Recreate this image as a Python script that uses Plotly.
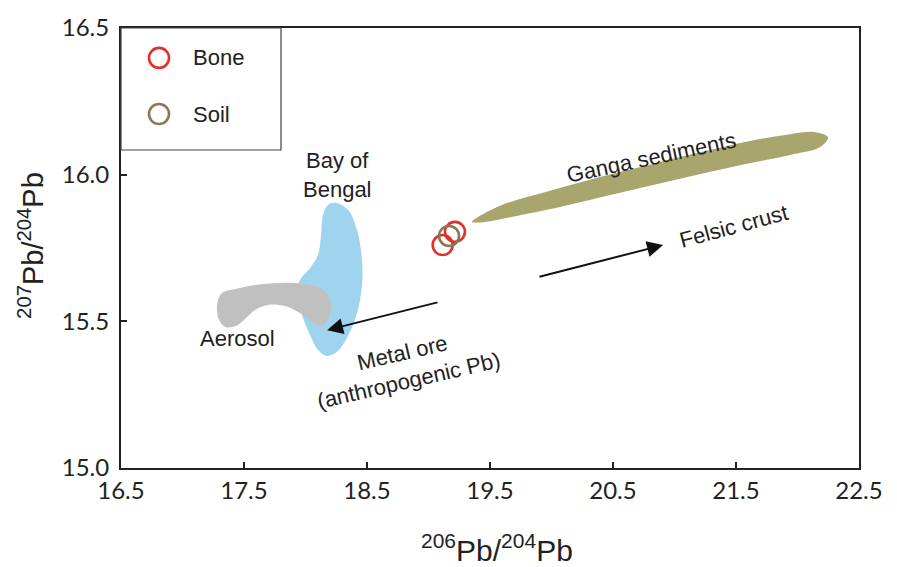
import plotly.graph_objects as go

# ---- data ----
bone_x = [19.115, 19.215]
bone_y = [15.760, 15.805]
soil_x = [19.167]
soil_y = [15.791]

ganga_x = [19.354, 19.581, 19.988, 20.394, 20.801, 21.207, 21.614, 21.939, 22.142, 22.248,
           22.183, 21.939, 21.533, 21.045, 20.557, 20.069, 19.663, 19.459, 19.354]
ganga_y = [15.839, 15.894, 15.945, 15.992, 16.034, 16.076, 16.115, 16.138, 16.145, 16.128,
           16.094, 16.067, 16.032, 15.986, 15.938, 15.890, 15.855, 15.839, 15.839]

bengal_x = [18.240, 18.346, 18.419, 18.459, 18.459, 18.419, 18.337, 18.256, 18.175, 18.102,
            18.037, 17.972, 17.931, 17.955, 18.037, 18.102, 18.126, 18.142, 18.183, 18.240]
bengal_y = [15.904, 15.880, 15.811, 15.709, 15.624, 15.528, 15.443, 15.396, 15.382, 15.402,
            15.453, 15.522, 15.590, 15.641, 15.682, 15.726, 15.794, 15.863, 15.897, 15.904]

aerosol_x = [17.289, 17.321, 17.427, 17.589, 17.793, 17.996, 18.118, 18.183, 18.207, 18.191,
             18.134, 18.053, 17.955, 17.833, 17.695, 17.589, 17.516, 17.435, 17.346, 17.297,
             17.280, 17.289]
aerosol_y = [15.573, 15.597, 15.610, 15.624, 15.631, 15.627, 15.614, 15.590, 15.556, 15.511,
             15.484, 15.498, 15.528, 15.552, 15.556, 15.539, 15.511, 15.484, 15.481, 15.505,
             15.539, 15.573]

metal_arrow = dict(x_tail=19.085, y_tail=15.566, x_head=18.175, y_head=15.470)
felsic_arrow = dict(x_tail=19.890, y_tail=15.651, x_head=20.907, y_head=15.760)

x_ticks = [16.5, 17.5, 18.5, 19.5, 20.5, 21.5, 22.5]
y_ticks = [15.0, 15.5, 16.0, 16.5]
x_tick_text = ["16.5", "17.5", "18.5", "19.5", "20.5", "21.5", "22.5"]
y_tick_text = ["15.0", "15.5", "16.0", "16.5"]

labels = [
    # text, x, y, angle
    ("Bay of<br>Bengal", 18.264, 16.000, 0),
    ("Aerosol", 17.451, 15.443, 0),
    ("Metal ore<br>(anthropogenic Pb)", 18.81, 15.345, -13),
    ("Ganga sediments", 20.81, 16.060, -12),
    ("Felsic crust", 21.476, 15.825, -15),
]

x_title = "<sup>206</sup>Pb/<sup>204</sup>Pb"
y_title = "<sup>207</sup>Pb/<sup>204</sup>Pb"

RED = "#e0322b"
BROWN = "#8c7658"
TEXT_FONT = "Liberation Sans, Arial, sans-serif"
TICK_FONT = "Lato, Open Sans, sans-serif"
TITLE_FONT = "Liberation Sans Narrow, Arial Narrow, Liberation Sans, sans-serif"

fig = go.Figure()

fig.add_trace(go.Scatter(x=bengal_x, y=bengal_y, mode="lines", fill="toself",
                         fillcolor="#9fd4ef", line=dict(width=0, color="#9fd4ef"),
                         line_shape="spline", showlegend=False, hoverinfo="skip"))
fig.add_trace(go.Scatter(x=aerosol_x, y=aerosol_y, mode="lines", fill="toself",
                         fillcolor="#c0c0c0", line=dict(width=0, color="#c0c0c0"),
                         line_shape="spline", showlegend=False, hoverinfo="skip"))
fig.add_trace(go.Scatter(x=ganga_x, y=ganga_y, mode="lines", fill="toself",
                         fillcolor="#a9a66d", line=dict(width=0, color="#a9a66d"),
                         line_shape="spline", showlegend=False, hoverinfo="skip"))

fig.add_trace(go.Scatter(x=bone_x, y=bone_y, mode="markers", name="Bone", showlegend=False,
                         marker=dict(symbol="circle-open", size=20, line=dict(width=2.6, color=RED),
                                     color=RED)))
fig.add_trace(go.Scatter(x=soil_x, y=soil_y, mode="markers", name="Soil", showlegend=False,
                         marker=dict(symbol="circle-open", size=20, line=dict(width=2.6, color=BROWN),
                                     color=BROWN)))

annotations = []
for txt, x, y, ang in labels:
    annotations.append(dict(x=x, y=y, text=txt, showarrow=False, textangle=ang,
                            font=dict(family=TEXT_FONT, size=22, color="#222222"),
                            xref="x", yref="y", align="center"))

for arr in (metal_arrow, felsic_arrow):
    annotations.append(dict(x=arr["x_head"], y=arr["y_head"], ax=arr["x_tail"], ay=arr["y_tail"],
                            xref="x", yref="y", axref="x", ayref="y", text="",
                            showarrow=True, arrowhead=2, arrowsize=1.6, arrowwidth=2,
                            arrowcolor="#111111", standoff=0, startstandoff=0))

# axis titles
annotations.append(dict(x=0.5095, y=-0.182, xref="paper", yref="paper", text=x_title,
                        showarrow=False, xanchor="center", yanchor="middle",
                        font=dict(family=TITLE_FONT, size=30, color="#222")))
annotations.append(dict(x=-0.122, y=0.507, xref="paper", yref="paper", text=y_title,
                        showarrow=False, xanchor="center", yanchor="middle", textangle=-90,
                        font=dict(family=TITLE_FONT, size=29, color="#222")))

# manual legend
legend_items = [("Bone", RED, 0.932), ("Soil", BROWN, 0.8045)]
shapes = [dict(type="rect", xref="x domain", yref="y domain", x0=0, x1=0.2168, y0=0.7227, y1=1,
               line=dict(color="#444444", width=1.2), fillcolor="rgba(0,0,0,0)")]
for name, col, yy in legend_items:
    shapes.append(dict(type="circle", xref="x domain", yref="y domain",
                       xsizemode="pixel", ysizemode="pixel", xanchor=0.0515, yanchor=yy,
                       x0=-10, x1=10, y0=-10, y1=10, line=dict(color=col, width=2.6)))
    annotations.append(dict(x=0.0949, y=yy, xref="x domain", yref="y domain", text=name,
                            showarrow=False, xanchor="left", yanchor="middle",
                            font=dict(family=TEXT_FONT, size=22, color="#222222")))

# page body has an 8px default margin, so the figure is 8px smaller and margins shifted
fig.update_layout(
    width=889, height=559,
    margin=dict(l=113, r=38, t=20, b=99, autoexpand=False),
    paper_bgcolor="white", plot_bgcolor="white",
    annotations=annotations, shapes=shapes,
    showlegend=False,
)

fig.update_xaxes(range=[16.5, 22.5], tickvals=x_ticks, ticktext=x_tick_text,
                 ticks="inside", ticklen=6, tickwidth=1.5, tickcolor="#222",
                 showgrid=False, zeroline=False, showline=True, linecolor="#222", linewidth=2,
                 mirror=True, automargin=False,
                 tickfont=dict(family=TICK_FONT, size=24, color="#222"))
fig.update_yaxes(range=[15.0, 16.5], tickvals=y_ticks, ticktext=y_tick_text,
                 ticks="inside", ticklen=6, tickwidth=1.5, tickcolor="#222",
                 showgrid=False, zeroline=False, showline=True, linecolor="#222", linewidth=2,
                 mirror=True, automargin=False, ticklabelstandoff=5,
                 tickfont=dict(family=TICK_FONT, size=24, color="#222"))

fig.write_html("out.html")
